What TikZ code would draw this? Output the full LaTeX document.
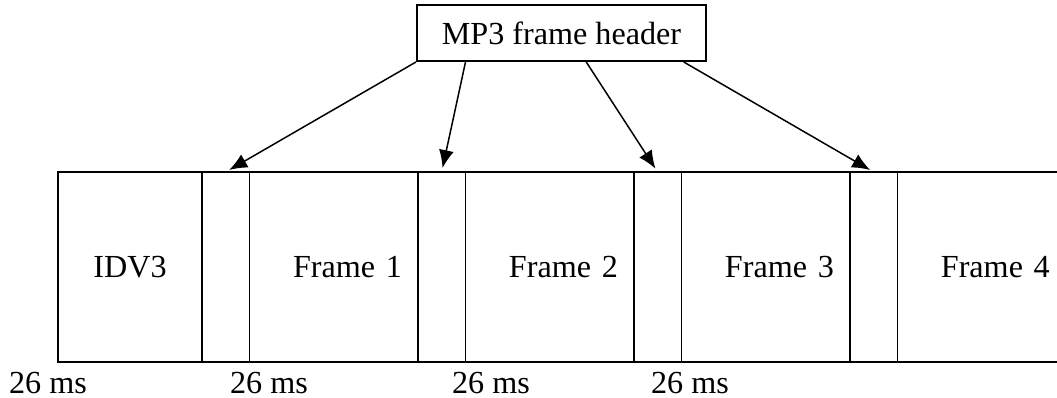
\documentclass[tikz,border=0pt]{standalone}
\usepackage{fontspec}
\setmainfont{Liberation Serif}
\usetikzlibrary{positioning,calc,arrows.meta}
\tikzset{>={Latex[length=3.6mm,width=3mm]}}

\begin{document}
\begin{tikzpicture}[x=0.02cm,y=-0.02cm,font=\fontsize{18.3}{22}\selectfont]
      \tikzstyle{part}=[minimum height=3.8cm,inner sep=0pt,outer sep=0pt];
      \tikzstyle{idvbox}=[part,minimum width=2.88cm];
      \tikzstyle{slotbox}=[part,minimum width=0.95cm];
      \tikzstyle{framebox}=[part,minimum width=3.37cm,text width=2.73cm,align=right];
      \tikzstyle{thickline}=[line width=1.1pt];
      \tikzstyle{thinline}=[line width=0.6pt];
      \tikzstyle{pointer}=[line width=0.85pt,->,shorten >=0.08cm];
      \useasboundingbox (0,0) rectangle (1057,398);

      \node[draw,thickline,minimum width=5.78cm,minimum height=1.12cm] (head) at (561.5,33) {MP3 frame header};

      \node[idvbox,anchor=north west] (idv3) at (58,172) {IDV3};
      \node[slotbox,right=0pt of idv3] (slot1) {};
      \node[framebox,right=0pt of slot1] (frame1) {Frame 1};
      \node[slotbox,right=0pt of frame1] (slot2) {};
      \node[framebox,right=0pt of slot2] (frame2) {Frame 2};
      \node[slotbox,right=0pt of frame2] (slot3) {};
      \node[framebox,right=0pt of slot3] (frame3) {Frame 3};
      \node[slotbox,right=0pt of frame3] (slot4) {};
      \node[framebox,right=0pt of slot4] (frame4) {Frame 4};

      \draw[thickline] (frame4.north east) -- (idv3.north west) -- (idv3.south west) -- (frame4.south east);
      \foreach \i in {1,...,4} {
        \draw[thickline] (slot\i.north west) -- (slot\i.south west);
        \draw[thinline] (slot\i.north east) -- (slot\i.south east);
      }

      \draw[pointer] (head.south west) -- (slot1.north);
      \draw[pointer] ($(head.south west)!0.17!(head.south east)$) -- (slot2.north);
      \draw[pointer] ($(head.south west)!0.585!(head.south east)$) -- (slot3.north);
      \draw[pointer] ($(head.south west)!0.92!(head.south east)$) -- (slot4.north);

      \node[anchor=base] (ms1) at (48,393) {26 ms};
      \node[anchor=base] (ms2) at (269,393) {26 ms};
      \node[anchor=base] (ms3) at (491,393) {26 ms};
      \node[anchor=base] (ms4) at (690,393) {26 ms};
    \end{tikzpicture}
\end{document}
